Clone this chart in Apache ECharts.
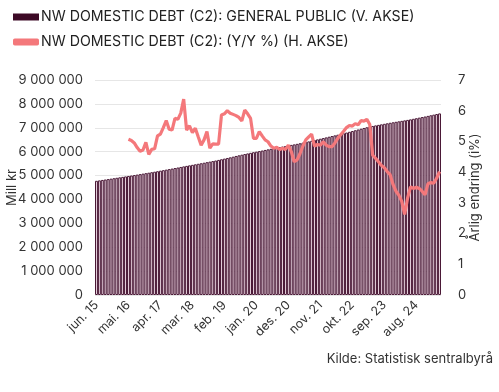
<!DOCTYPE html>
<html><head><meta charset="utf-8">
<script src="https://cdn.jsdelivr.net/npm/echarts@6/dist/echarts.min.js"></script>
<style>html,body{margin:0;padding:0;background:#fff}#c{width:499px;height:392px}</style>
</head><body><div id="c"></div>
<script>
// Months Jun 2015 .. Apr 2025
const startYear = 2015, startMonth = 5, monthCount = 119;
const monthNames = ['jan.','feb.','mar.','apr.','mai.','jun.','jul.','aug.','sep.','okt.','nov.','des.'];
const categories = [];
for (let i = 0; i < monthCount; i++) {
  const m = (startMonth + i) % 12, y = startYear + Math.floor((startMonth + i) / 12);
  categories.push(monthNames[m] + ' ' + String(y % 100).padStart(2, '0'));
}
// General public debt, Mill kr (thousands of millions)
const debtThousands = [
  4780, 4798, 4816, 4834, 4852, 4870, 4889, 4907, 4926, 4945, 4964, 4983,
  5002, 5021, 5040, 5060, 5080, 5100, 5120, 5140, 5161, 5182, 5204, 5226,
  5248, 5270, 5292, 5314, 5337, 5360, 5383, 5405, 5427, 5449, 5471, 5493,
  5515, 5537, 5560, 5583, 5606, 5629, 5655, 5682, 5709, 5736, 5763, 5790,
  5820, 5847, 5874, 5900, 5926, 5952, 5978, 6000, 6024, 6048, 6072, 6096,
  6120, 6143, 6166, 6190, 6214, 6238, 6262, 6284, 6305, 6328, 6352, 6376,
  6402, 6430, 6458, 6486, 6514, 6542, 6570, 6598, 6626, 6654, 6682, 6710,
  6740, 6770, 6800, 6832, 6864, 6896, 6928, 6960, 6992, 7022, 7050, 7076,
  7100, 7122, 7144, 7166, 7188, 7210, 7230, 7250, 7270, 7290, 7310, 7330,
  7352, 7376, 7400, 7424, 7448, 7472, 7498, 7524, 7550, 7576, 7602
];
const debt = debtThousands.map(v => v * 1000);
// Y/Y %, starting May 2016 (index 11)
const yoyStartIndex = 11;
const yoyValues = [
  5.07, 5.03, 4.95, 4.80, 4.68, 4.72, 4.97, 4.58, 4.74, 4.76, 5.18, 5.24,
  5.45, 5.68, 5.40, 5.37, 5.75, 5.72, 5.92, 6.38, 5.37, 5.51, 5.29, 5.43,
  5.15, 4.88, 5.05, 5.32, 4.78, 4.92, 4.91, 4.91, 5.86, 5.90, 6.00, 5.92,
  5.88, 5.84, 5.78, 5.67, 6.02, 5.90, 5.75, 5.10, 5.10, 5.32, 5.18, 5.05,
  4.99, 4.85, 4.78, 4.81, 4.74, 4.78, 4.74, 4.88, 4.67, 4.34, 4.40, 4.60,
  4.85, 5.05, 5.15, 5.24, 4.85, 4.90, 4.88, 4.99, 4.88, 4.83, 4.83, 4.95,
  5.10, 5.22, 5.33, 5.45, 5.52, 5.50, 5.58, 5.54, 5.68, 5.66, 5.72, 5.55,
  4.55, 4.45, 4.34, 4.22, 4.14, 4.02, 3.92, 3.60, 3.38, 3.25, 3.05, 2.62,
  3.15, 3.52, 3.47, 3.51, 3.47, 3.38, 3.26, 3.62, 3.66, 3.64, 3.80, 4.02
];
const yoy = categories.map((_, i) => i >= yoyStartIndex && i - yoyStartIndex < yoyValues.length ? yoyValues[i - yoyStartIndex] : null);
const leftTicks = [0, 9000000, 1000000];
const rightTicks = [0, 7, 1];

const FONT = 'Inter';
const chart = echarts.init(document.getElementById('c'), null, {renderer: 'canvas'});
chart.setOption({
  animation: false,
  textStyle: {fontFamily: FONT},
  legend: {
    orient: 'vertical', left: 8, top: 5, itemGap: 11,
    itemWidth: 26, itemHeight: 7,
    textStyle: {fontFamily: FONT, fontSize: 14.2, color: '#222', padding: [0,0,0,-3]},
    data: [
      {name: 'NW DOMESTIC DEBT (C2): GENERAL PUBLIC (V. AKSE)', icon: 'rect', itemStyle: {color: '#3d0a26', borderWidth: 0}},
      {name: 'NW DOMESTIC DEBT (C2): (Y/Y %) (H. AKSE)', icon: 'roundRect', itemStyle: {color: '#f4787b'}}
    ]
  },
  grid: {left: 95, right: 58, top: 80, bottom: 97, containLabel: false, outerBoundsMode: 'none'},
  xAxis: {
    type: 'category', data: categories, boundaryGap: true,
    axisLine: {show: false}, axisTick: {show: false},
    axisLabel: {interval: 10, rotate: 45, fontSize: 12.5, color: '#333', margin: 8, fontFamily: FONT}
  },
  yAxis: [
    {type: 'value', min: leftTicks[0], max: leftTicks[1], interval: leftTicks[2],
     name: 'Mill kr', nameLocation: 'middle', nameGap: 76, nameRotate: 90, nameMoveOverlap: false,
     nameTextStyle: {fontSize: 13, color: '#333', fontFamily: FONT},
     axisLabel: {fontSize: 13, color: '#333', margin: 12, fontFamily: FONT,
       formatter: v => String(v).replace(/\B(?=(\d{3})+(?!\d))/g, ' ')},
     splitLine: {lineStyle: {color: '#e6e6e6'}}, axisLine: {show: false}, axisTick: {show: false}},
    {type: 'value', min: rightTicks[0], max: rightTicks[1], interval: rightTicks[2],
     name: 'Årlig endring (i%)', nameLocation: 'middle', nameGap: 28, nameRotate: 90, nameMoveOverlap: false,
     nameTextStyle: {fontSize: 13, color: '#333', fontFamily: FONT},
     axisLabel: {fontSize: 13, color: '#333', margin: 17, fontFamily: FONT},
     splitLine: {show: false}, axisLine: {show: false}, axisTick: {show: false}}
  ],
  series: [
    {name: 'NW DOMESTIC DEBT (C2): GENERAL PUBLIC (V. AKSE)', type: 'bar', data: debt, yAxisIndex: 0,
     barCategoryGap: '0%', itemStyle: {color: '#f3e0ea', borderColor: '#4a1836', borderWidth: 1}},
    {name: 'NW DOMESTIC DEBT (C2): (Y/Y %) (H. AKSE)', type: 'line', data: yoy, yAxisIndex: 1,
     showSymbol: false, symbol: 'none', connectNulls: false,
     lineStyle: {color: '#f4787b', width: 3.2}, itemStyle: {color: '#f4787b'}}
  ],
  graphic: [{type: 'text', right: 6, top: 353,
    style: {text: 'Kilde: Statistisk sentralbyrå', fontSize: 13, fill: '#333', fontFamily: FONT}}]
});
</script></body></html>
